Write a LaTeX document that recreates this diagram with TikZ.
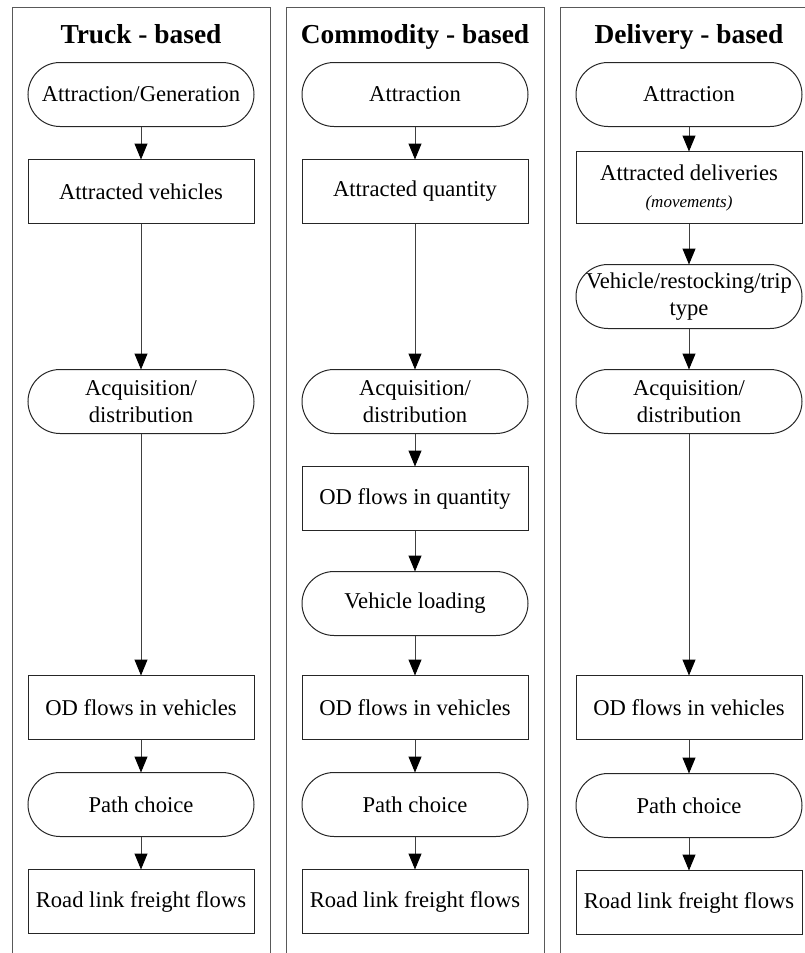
\documentclass[tikz,border=0pt]{standalone}
\usepackage{fontspec}
\setmainfont{Liberation Serif}
\usepackage{tikz}
\usetikzlibrary{positioning,arrows.meta}
\tikzset{box node/.style={rectangle,draw=black!85,line width=1pt,minimum width=226pt,minimum height=64pt,inner sep=0pt,outer sep=0pt,align=center,font=\fontsize{22.6}{27}\selectfont},
	term node/.style={box node,rounded corners=32pt},
	head node/.style={anchor=base,font=\bfseries\fontsize{27.4}{33}\selectfont},
	flow/.style={draw=black!75,line width=1pt,-{Triangle[length=16pt,width=13pt,color=black]}},
	panel/.style={draw=black!65,line width=1pt},}

\begin{document}
\begin{tikzpicture}[x=1pt,y=1pt]
	\useasboundingbox (0,0) rectangle (805,-953);

	\begin{scope}[xshift=141pt]
	\draw[panel] (-129,-980) -- (-129,-7) -- (129,-7) -- (129,-980);
	\node[head node] (th) at (0,-43) {Truck - based};
	\node[term node] (t1) at (0,-94.5) {Attraction/Generation};
	\node[box node] (t2) [below = 33pt of t1] {Attracted vehicles};
	\node[term node] (t3) [below = 146pt of t2] {Acquisition/\\distribution};
	\node[box node] (t4) [below = 242pt of t3] {OD flows in vehicles};
	\node[term node] (t5) [below = 33pt of t4] {Path choice};
	\node[box node] (t6) [below = 33pt of t5] {Road link freight flows};

	\path[flow]
	(t1) edge (t2)
	(t2) edge (t3)
	(t3) edge (t4)
	(t4) edge (t5)
	(t5) edge (t6)
	;
	\end{scope}

	\begin{scope}[xshift=415pt]
	\draw[panel] (-129,-980) -- (-129,-7) -- (129,-7) -- (129,-980);
	\node[head node] (ch) at (0,-43) {Commodity - based};
	\node[term node] (c1) at (0,-94.5) {Attraction};
	\node[box node] (c2) [below = 33pt of c1] {Attracted quantity};
	\node[term node] (c3) [below = 146pt of c2] {Acquisition/\\distribution};
	\node[box node] (c4) [below = 33pt of c3] {OD flows in quantity};
	\node[term node] (c5) [below = 41pt of c4] {Vehicle loading};
	\node[box node] (c6) [below = 40pt of c5] {OD flows in vehicles};
	\node[term node] (c7) [below = 33pt of c6] {Path choice};
	\node[box node] (c8) [below = 33pt of c7] {Road link freight flows};

	\path[flow]
	(c1) edge (c2)
	(c2) edge (c3)
	(c3) edge (c4)
	(c4) edge (c5)
	(c5) edge (c6)
	(c6) edge (c7)
	(c7) edge (c8)
	;
	\end{scope}

	\begin{scope}[xshift=689pt]
	\draw[panel] (-129,-980) -- (-129,-7) -- (140,-7);
	\node[head node] (dh) at (0,-43) {Delivery - based};
	\node[term node] (d1) at (0,-94.5) {Attraction};
	\node[box node,minimum height=72pt] (d2) [below = 25pt of d1] {Attracted deliveries\\{\itshape\fontsize{17}{20}\selectfont (movements)}};
	\node[term node] (d3) [below = 41pt of d2] {Vehicle/restocking/trip\\type};
	\node[term node] (d4) [below = 41pt of d3] {Acquisition/\\distribution};
	\node[box node] (d5) [below = 242pt of d4] {OD flows in vehicles};
	\node[term node] (d6) [below = 34pt of d5] {Path choice};
	\node[box node] (d7) [below = 33pt of d6] {Road link freight flows};

	\path[flow]
	(d1) edge (d2)
	(d2) edge (d3)
	(d3) edge (d4)
	(d4) edge (d5)
	(d5) edge (d6)
	(d6) edge (d7)
	;
	\end{scope}
\end{tikzpicture}
\end{document}
